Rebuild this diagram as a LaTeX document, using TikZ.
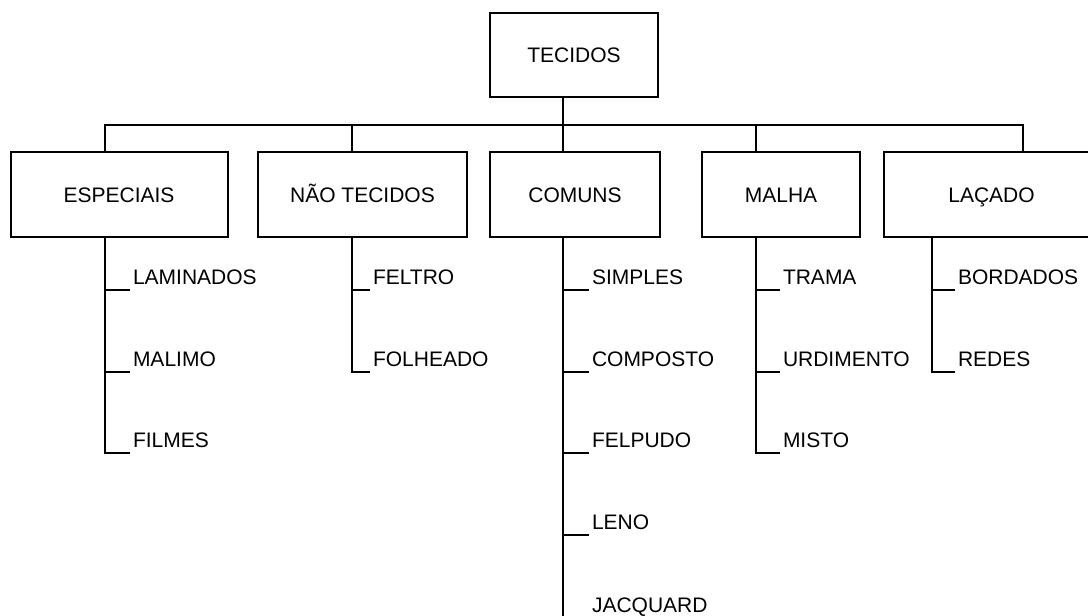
\documentclass[tikz,border=0pt]{standalone}
\usepackage{fontspec}
\setmainfont{Liberation Sans}
\begin{document}
\begin{tikzpicture}[x=1pt,y=-1pt,
  line width=2pt,
  box/.style={draw, rectangle, inner sep=0pt, minimum height=85pt, text height=15pt, text depth=0pt, font=\fontsize{21}{24}\selectfont},
  leaf/.style={anchor=south west, inner xsep=2pt, inner ysep=0pt, text depth=5pt, font=\fontsize{21}{24}\selectfont},
  conn/.style={line width=2pt}]
\useasboundingbox (0,0) rectangle (1088,616);
\fill[white] (0,0) rectangle (1088,616);
\clip (0,0) rectangle (1088,616);

% boxes
\node[box, minimum width=168pt, minimum height=84pt] (tec) at (574,55) {TECIDOS};
\node[box, minimum width=217pt] (esp) at (119,194.5) {ESPECIAIS};
\node[box, minimum width=209pt] (nao) at (362.5,194.5) {NÃO TECIDOS};
\node[box, minimum width=170pt] (com) at (575,194.5) {COMUNS};
\node[box, minimum width=158pt] (mal) at (781,194.5) {MALHA};
\node[box, minimum width=215pt] (lac) at (991.5,194.5) {LAÇADO};

% connection points
\coordinate (bus) at (0,125);
\coordinate (tecB) at ([xshift=-11pt]tec.south);
\coordinate (espT) at ([xshift=-14pt]esp.north);
\coordinate (espB) at ([xshift=-14pt]esp.south);
\coordinate (naoT) at ([xshift=-10.5pt]nao.north);
\coordinate (naoB) at ([xshift=-10.5pt]nao.south);
\coordinate (comT) at ([xshift=-12pt]com.north);
\coordinate (comB) at ([xshift=-12pt]com.south);
\coordinate (malT) at ([xshift=-25pt]mal.north);
\coordinate (malB) at ([xshift=-25pt]mal.south);
\coordinate (lacT) at ([xshift=31.5pt]lac.north);
\coordinate (lacB) at ([xshift=-59.5pt]lac.south);

% leaves
\node[leaf] (lam) at (130,290) {LAMINADOS};
\node[leaf] (mali) at (130,372) {MALIMO};
\node[leaf] (fil) at (130,453) {FILMES};

\node[leaf] (fel) at (370,290) {FELTRO};
\node[leaf] (fol) at (370,372) {FOLHEADO};

\node[leaf] (sim) at (589,290) {SIMPLES};
\node[leaf] (cmp) at (589,372) {COMPOSTO};
\node[leaf] (felp) at (589,453) {FELPUDO};
\node[leaf] (len) at (589,535) {LENO};
\node[leaf] (jac) at (589,618) {JACQUARD};

\node[leaf] (tra) at (780,290) {TRAMA};
\node[leaf] (urd) at (780,372) {URDIMENTO};
\node[leaf] (mis) at (780,453) {MISTO};

\node[leaf] (bor) at (955,290) {BORDADOS};
\node[leaf] (red) at (955,372) {REDES};

% top-level connectors
\draw[conn] (tecB) -- (tecB |- bus);
\draw[conn] (espT) |- (lacT |- bus) -- (lacT);
\draw[conn] (naoT |- bus) -- (naoT);
\draw[conn] (comT |- bus) -- (comT);
\draw[conn] (malT |- bus) -- (malT);

% child connectors
\draw[conn] (espB) |- (fil.south west);
\draw[conn] (espB |- lam.south west) -- (lam.south west);
\draw[conn] (espB |- mali.south west) -- (mali.south west);

\draw[conn] (naoB) |- (fol.south west);
\draw[conn] (naoB |- fel.south west) -- (fel.south west);

\draw[conn] (comB) |- (jac.south west);
\draw[conn] (comB |- sim.south west) -- (sim.south west);
\draw[conn] (comB |- cmp.south west) -- (cmp.south west);
\draw[conn] (comB |- felp.south west) -- (felp.south west);
\draw[conn] (comB |- len.south west) -- (len.south west);

\draw[conn] (malB) |- (mis.south west);
\draw[conn] (malB |- tra.south west) -- (tra.south west);
\draw[conn] (malB |- urd.south west) -- (urd.south west);

\draw[conn] (lacB) |- (red.south west);
\draw[conn] (lacB |- bor.south west) -- (bor.south west);
\end{tikzpicture}
\end{document}
